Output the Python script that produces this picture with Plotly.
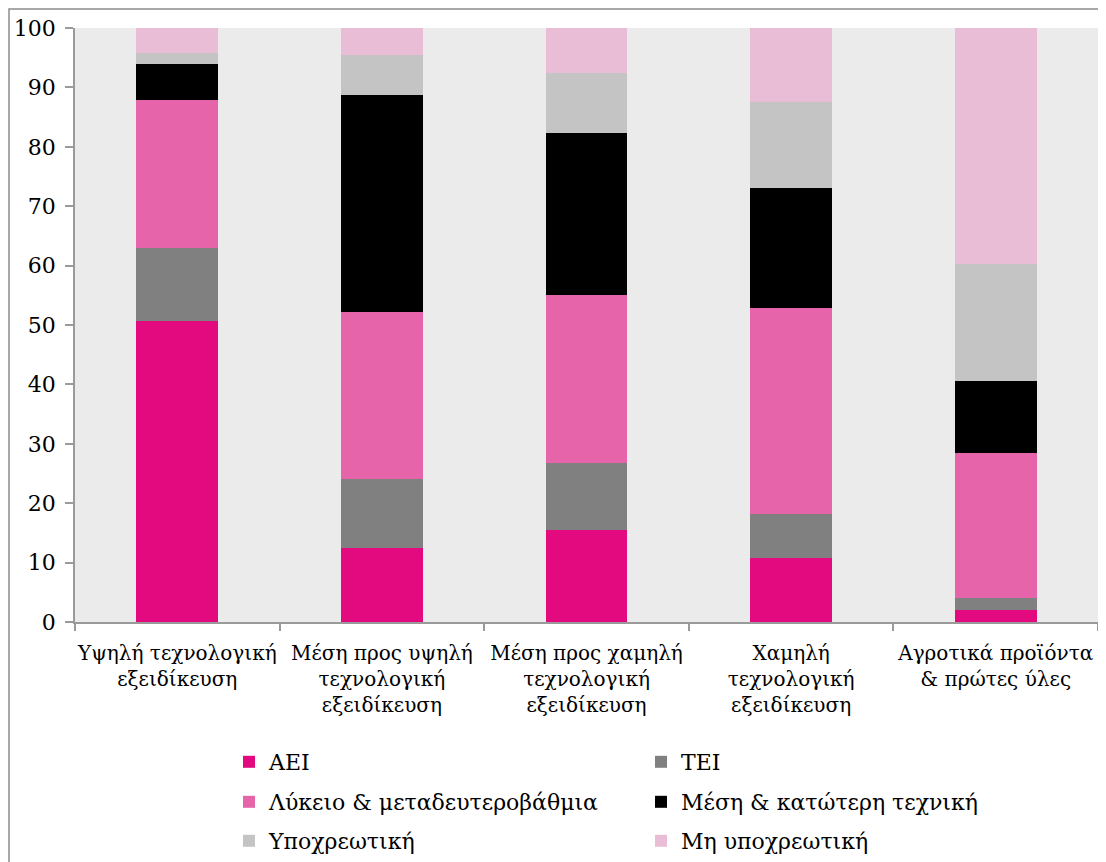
import plotly.graph_objects as go

categories = [
    "Υψηλή τεχνολογική<br>εξειδίκευση",
    "Μέση προς υψηλή<br>τεχνολογική<br>εξειδίκευση",
    "Μέση προς χαμηλή<br>τεχνολογική<br>εξειδίκευση",
    "Χαμηλή<br>τεχνολογική<br>εξειδίκευση",
    "Αγροτικά προϊόντα<br>& πρώτες ύλες",
]

aei = [50.7, 12.5, 15.5, 10.8, 2.1]
tei = [12.3, 11.5, 11.2, 7.3, 2.0]
lykeio = [24.9, 28.2, 28.4, 34.7, 24.4]
mesi = [6.0, 36.6, 27.3, 20.3, 12.1]
ypoxr = [1.9, 6.7, 10.0, 14.5, 19.7]
mh_ypoxr = [4.2, 4.5, 7.6, 12.4, 39.7]

series_names = ["ΑΕΙ", "ΤΕΙ", "Λύκειο & μεταδευτεροβάθμια", "Μέση & κατώτερη τεχνική",
                "Υποχρεωτική", "Μη υποχρεωτική"]
series_values = [aei, tei, lykeio, mesi, ypoxr, mh_ypoxr]
colors = ["#E3097F", "#808080", "#E664AA", "#000000", "#C4C4C4", "#EABDD6"]
legend_ids = ["legend", "legend", "legend2", "legend2", "legend3", "legend3"]

FONT = "DejaVu Serif"
FS = 22
FS_X = 20

fig = go.Figure()
for name, vals, col, lg in zip(series_names, series_values, colors, legend_ids):
    fig.add_trace(go.Bar(
        x=categories, y=vals, name=name, legend=lg,
        marker=dict(color=col, line=dict(width=0)),
    ))

# page body adds an 8px offset; figure coordinates below are screen - 8
OFF = 8
W, H = 1106 - OFF, 862 - OFF
L, R, T, B = 75 - OFF, 8, 28 - OFF, 240
pw = W - L - R
ph = H - T - B
y0px = 622 - OFF  # screen y of value 0


def leg(ypx):
    return dict(
        orientation="h", traceorder="normal",
        x=(229 - OFF - L) / pw, xanchor="left",
        y=(y0px - (ypx - OFF)) / ph, yanchor="middle",
        entrywidth=367, entrywidthmode="pixels",
        font=dict(family=FONT, size=FS, color="black"),
        bgcolor="rgba(0,0,0,0)", borderwidth=0,
    )


fig.update_layout(
    width=W, height=H,
    barmode="stack", bargap=0.6,
    margin=dict(l=L, r=R, t=T, b=B, autoexpand=False),
    paper_bgcolor="white", plot_bgcolor="#EBEBEB",
    font=dict(family=FONT, size=FS, color="black"),
    showlegend=True,
    legend=leg(762), legend2=leg(802), legend3=leg(841),
    shapes=[dict(
        type="rect", xref="paper", yref="paper",
        x0=(9 - OFF - L) / pw, x1=(1130 - L) / pw,
        y0=(y0px - 900) / ph, y1=(y0px - 1) / ph,
        line=dict(color="#8C8C8C", width=1.5), fillcolor="rgba(0,0,0,0)",
        layer="below",
    )],
)

fig.update_xaxes(
    showline=True, linecolor="#9A9A9A", linewidth=1.5,
    ticks="outside", tickson="boundaries", ticklen=7, tickcolor="#9A9A9A", tickwidth=1.5,
    showgrid=False, tickfont=dict(family=FONT, size=FS_X), ticklabelstandoff=12,
    tickangle=0,
)
fig.update_yaxes(
    range=[0, 100], dtick=10, showline=True, linecolor="#9A9A9A", linewidth=1.5,
    ticks="outside", ticklen=8, tickcolor="#9A9A9A", tickwidth=1.5,
    showgrid=False, zeroline=False, tickfont=dict(family=FONT, size=FS), ticklabelstandoff=5,
)

fig.write_html("out.html")
